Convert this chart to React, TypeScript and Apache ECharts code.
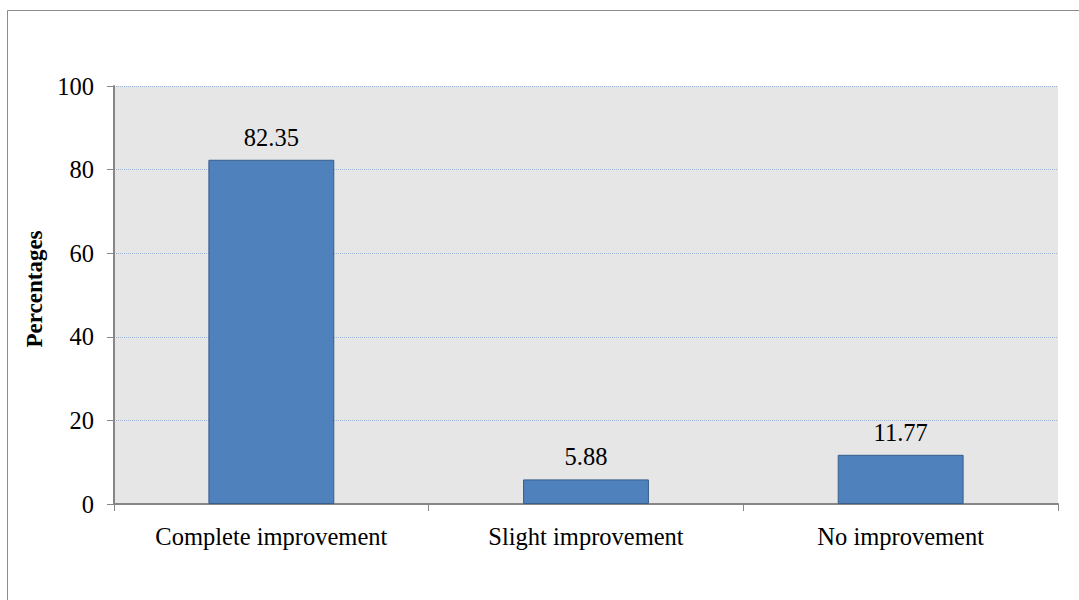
import React, { useEffect, useRef } from "react";
import * as echarts from "echarts";

const categories = ["Complete improvement", "Slight improvement", "No improvement"];
const percentages = [82.35, 5.88, 11.77];
const yTicks = [0, 20, 40, 60, 80, 100];

export default function App() {
  const ref = useRef<HTMLDivElement>(null);
  useEffect(() => {
    if (!ref.current) return;
    const chart = echarts.init(ref.current, undefined, { renderer: "svg" });
    const font = "'Liberation Serif', 'Times New Roman', serif";
    chart.setOption({
      animation: false,
      textStyle: { fontFamily: font },
      graphic: [
        {
          type: "rect",
          shape: { x: 7.5, y: 10.5, width: 1080, height: 600 },
          style: { fill: "none", stroke: "#8c8c8c", lineWidth: 1 },
          silent: true,
        },
      ],
      grid: { left: 114, right: 21, top: 86, bottom: 96, show: true, backgroundColor: "#e6e6e6", borderWidth: 0 },
      xAxis: {
        type: "category",
        data: categories,
        axisLine: { lineStyle: { color: "#868686", width: 2 } },
        axisTick: { show: true, length: 7, lineStyle: { color: "#868686", width: 1 }, alignWithLabel: false },
        axisLabel: { color: "#000", fontSize: 24.5, fontFamily: font, margin: 20 },
      },
      yAxis: {
        type: "value",
        min: yTicks[0],
        max: yTicks[yTicks.length - 1],
        interval: 20,
        name: "Percentages",
        nameLocation: "middle",
        nameGap: 62,
        nameTextStyle: { color: "#000", fontSize: 23, fontWeight: "bold", fontFamily: font, padding: [0, 0, 0, 12] },
        axisLine: { show: true, lineStyle: { color: "#868686", width: 2 } },
        axisTick: { show: true, length: 7, lineStyle: { color: "#868686", width: 1 } },
        axisLabel: { color: "#000", fontSize: 24.5, fontFamily: font, margin: 20 },
        splitLine: { show: true, lineStyle: { color: "#9db4d6", type: "dotted", width: 1 } },
      },
      series: [
        {
          type: "bar",
          data: percentages,
          barWidth: "40%",
          itemStyle: { color: "#4f81bd", borderColor: "#385d8a", borderWidth: 1 },
          label: {
            show: true,
            position: "top",
            distance: 10,
            color: "#000",
            fontSize: 24.5,
            fontFamily: font,
            formatter: (p: any) => p.value.toFixed(2),
          },
        },
      ],
    });
    return () => chart.dispose();
  }, []);
  return <div ref={ref} style={{ position: "fixed", left: 0, top: 0, width: 1079, height: 600, background: "#fff" }} />;
}
